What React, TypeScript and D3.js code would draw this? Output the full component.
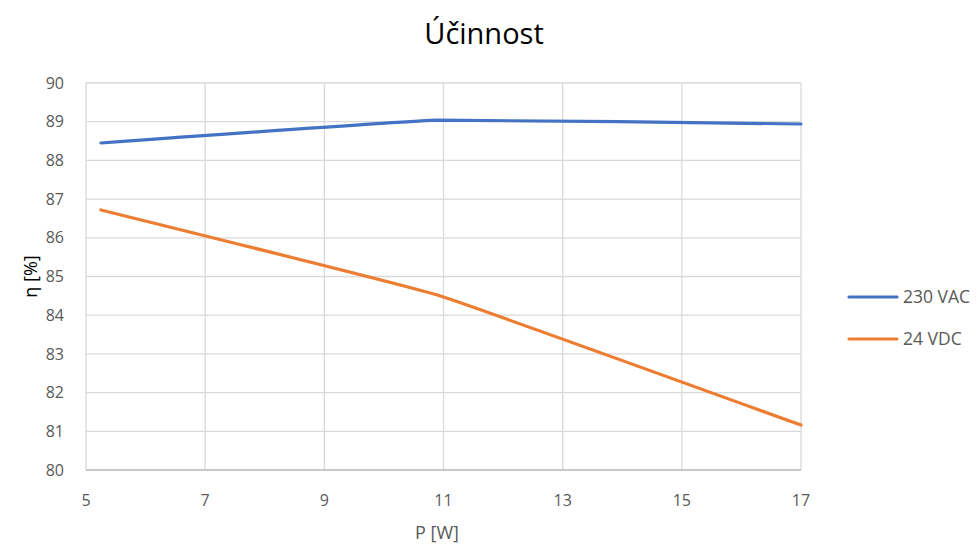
import { useRef, useEffect } from 'react'
import * as d3 from 'd3'

const seriesNames = ['230 VAC', '24 VDC']
const seriesColors = ['#4472C4', '#ED7D31']
const powerW = [5.25, 10.9, 17]
const vac230 = [88.45, 89.04, 88.94]
const vdc24 = [86.72, 84.52, 81.16]
const xTicks = [5, 7, 9, 11, 13, 15, 17]
const yTicks = [80, 81, 82, 83, 84, 85, 86, 87, 88, 89, 90]

const FONT = "'Open Sans', 'Liberation Sans', sans-serif"

export default function App() {
  const svgRef = useRef<SVGSVGElement>(null)

  useEffect(() => {
    if (!svgRef.current) return
    const svg = d3.select(svgRef.current)
    svg.selectAll('*').remove()

    const width = 978
    const height = 545
    const margin = { top: 83, right: 177, bottom: 75, left: 86 }
    const innerW = width - margin.left - margin.right
    const innerH = height - margin.top - margin.bottom

    const g = svg.append('g').attr('transform', `translate(${margin.left},${margin.top})`)

    const x = d3.scaleLinear().domain([5, 17]).range([0, innerW])
    const y = d3.scaleLinear().domain([80, 90]).range([innerH, 0])

    // grid
    g.append('g')
      .selectAll('line.h')
      .data(yTicks)
      .join('line')
      .attr('x1', 0).attr('x2', innerW)
      .attr('y1', (d) => y(d)).attr('y2', (d) => y(d))
      .attr('stroke', '#d9d9d9').attr('stroke-width', 1.3)

    g.append('g')
      .selectAll('line.v')
      .data(xTicks)
      .join('line')
      .attr('x1', (d) => x(d)).attr('x2', (d) => x(d))
      .attr('y1', 0).attr('y2', innerH)
      .attr('stroke', '#d9d9d9').attr('stroke-width', 1.3)

    // bottom axis line
    g.append('line')
      .attr('x1', 0).attr('x2', innerW)
      .attr('y1', innerH).attr('y2', innerH)
      .attr('stroke', '#bfbfbf').attr('stroke-width', 1.3)

    // tick labels
    g.append('g')
      .selectAll('text')
      .data(yTicks)
      .join('text')
      .attr('x', -22)
      .attr('y', (d) => y(d))
      .attr('dy', '0.35em')
      .attr('text-anchor', 'end')
      .attr('fill', '#595959')
      .attr('font-size', 16)
      .attr('font-family', FONT)
      .text((d) => d)

    g.append('g')
      .selectAll('text')
      .data(xTicks)
      .join('text')
      .attr('x', (d) => x(d))
      .attr('y', innerH + 36)
      .attr('text-anchor', 'middle')
      .attr('fill', '#595959')
      .attr('font-size', 16)
      .attr('font-family', FONT)
      .text((d) => d)

    // lines (Excel-like smoothing, mostly straight segments)
    const data = [vac230, vdc24]
    const line = d3
      .line<number>()
      .x((_, i) => x(powerW[i]))
      .y((d) => y(d))
      .curve(d3.curveCardinal.tension(0.75))

    data.forEach((vals, i) => {
      g.append('path')
        .attr('d', line(vals))
        .attr('fill', 'none')
        .attr('stroke', seriesColors[i])
        .attr('stroke-width', 3.2)
        .attr('stroke-linecap', 'round')
    })

    // title and axis labels
    svg.append('text')
      .attr('x', 484).attr('y', 44)
      .attr('text-anchor', 'middle')
      .attr('fill', '#000')
      .attr('font-size', 29)
      .attr('font-family', FONT)
      .text('Účinnost')

    svg.append('text')
      .attr('x', 437).attr('y', 539)
      .attr('text-anchor', 'middle')
      .attr('fill', '#595959')
      .attr('font-size', 18)
      .attr('font-family', FONT)
      .text('P [W]')

    svg.append('text')
      .attr('transform', `translate(37,${margin.top + innerH / 2}) rotate(-90)`)
      .attr('text-anchor', 'middle')
      .attr('fill', '#000')
      .attr('font-size', 18)
      .attr('font-family', FONT)
      .text('η [%]')

    // legend
    const legend = svg.append('g').attr('transform', 'translate(849,297)')
    seriesNames.forEach((name, i) => {
      const row = legend.append('g').attr('transform', `translate(0,${i * 42})`)
      row.append('line')
        .attr('x1', 0).attr('x2', 48)
        .attr('stroke', seriesColors[i])
        .attr('stroke-width', 3.2)
        .attr('stroke-linecap', 'round')
      row.append('text')
        .attr('x', 54).attr('dy', '0.35em')
        .attr('fill', '#595959')
        .attr('font-size', 17.5)
        .attr('font-family', FONT)
        .text(name)
    })
  }, [])

  return (
    <div style={{ position: 'fixed', left: 0, top: 0, width: 978, height: 545, background: '#fff', overflow: 'hidden' }}>
      <svg ref={svgRef} width={978} height={545} style={{ display: 'block' }} />
    </div>
  )
}
